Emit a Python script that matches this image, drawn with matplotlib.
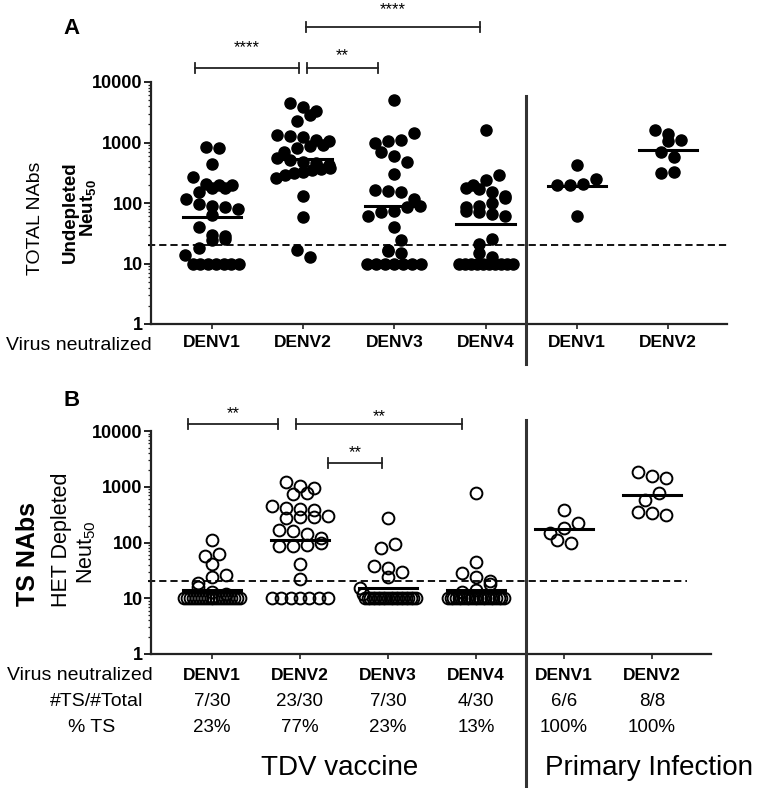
import matplotlib
matplotlib.use('Agg')
import matplotlib.pyplot as plt
import numpy as np
from matplotlib.lines import Line2D
from matplotlib.ticker import LogLocator, NullFormatter
from matplotlib.transforms import blended_transform_factory

# ---- data ----
cats = ['DENV1', 'DENV2', 'DENV3', 'DENV4', 'DENV1', 'DENV2']

# panel A: total NAbs (undepleted Neut50)
tot_d1 = [850, 820, 440, 270, 210, 200, 195, 180, 175, 150, 115, 95, 90, 85, 80,
          63, 40, 30, 28, 25, 24, 18, 14, 10, 10, 10, 10, 10, 10, 10]
tot_d2 = [4500, 3900, 3300, 2800, 2300, 1350, 1300, 1250, 1100, 1050, 900, 870, 800,
          700, 560, 520, 480, 460, 420, 380, 370, 350, 320, 310, 290, 260, 130, 58, 17, 13]
tot_d3 = [5000, 1450, 1100, 1050, 1000, 700, 600, 480, 300, 165, 160, 150, 115, 90, 85,
          75, 70, 62, 40, 24, 17, 16, 15, 10, 10, 10, 10, 10, 10, 10]
tot_d4 = [1600, 290, 240, 200, 180, 170, 150, 130, 120, 100, 90, 85, 75, 70, 65, 60,
          25, 21, 15, 13, 10, 10, 10, 10, 10, 10, 10, 10, 10, 10]
tot_p1 = [430, 250, 205, 200, 195, 60]
tot_p2 = [1600, 1400, 1100, 1050, 700, 580, 320, 310]

# panel B: type-specific NAbs (HET depleted Neut50)
ts_d1 = [110, 62, 58, 41, 26, 24, 19, 16, 13, 12] + [10] * 20
ts_d2 = [1230, 1030, 940, 780, 740, 450, 420, 400, 380, 300, 290, 290, 270, 170, 160,
         145, 120, 100, 92, 88, 85, 41, 22] + [10] * 7
ts_d3 = [280, 95, 80, 38, 35, 30, 24, 15, 12] + [10] * 21
ts_d4 = [760, 45, 28, 24, 20, 18, 14, 13] + [10] * 22
ts_p1 = [380, 220, 185, 150, 111, 100]
ts_p2 = [1860, 1560, 1420, 760, 580, 357, 345, 311]

cutoff = 20
ts_frac = ['7/30', '23/30', '7/30', '4/30', '6/6', '8/8']
ts_pct = ['23%', '77%', '23%', '13%', '100%', '100%']

yticks = [1, 10, 100, 1000, 10000]

# ---- figure ----
W, H = 761, 788
plt.rcParams['font.family'] = ['Liberation Sans', 'DejaVu Sans']
plt.rcParams['mathtext.fontset'] = 'custom'
plt.rcParams['mathtext.rm'] = 'Liberation Sans'
plt.rcParams['mathtext.bf'] = 'Liberation Sans:bold'
plt.rcParams['mathtext.it'] = 'Liberation Sans:italic'

fig = plt.figure(figsize=(W / 100, H / 100), dpi=100)


def px(x, y):
    return x / W, 1 - y / H


ax_a = fig.add_axes([151 / W, 1 - 324 / H, 576 / W, 242 / H])
ax_b = fig.add_axes([151 / W, 1 - 654 / H, 560 / W, 223 / H])
pos = np.arange(1, 7)


def style(ax, xlim, pad):
    ax.set_yscale('log')
    ax.set_ylim(1, 10000)
    ax.set_xlim(*xlim)
    for s in ['top', 'right']:
        ax.spines[s].set_visible(False)
    for s in ['left', 'bottom']:
        ax.spines[s].set_linewidth(1.6)
        ax.spines[s].set_color('#222222')
    ax.set_yticks(yticks)
    ax.set_yticklabels([str(t) for t in yticks], fontweight='bold', fontsize=13)
    ax.yaxis.set_minor_locator(LogLocator(base=10, subs=np.arange(2, 10), numticks=20))
    ax.yaxis.set_minor_formatter(NullFormatter())
    ax.tick_params(axis='y', which='major', length=5, width=1.4, pad=1, color='#222222')
    ax.tick_params(axis='y', which='minor', length=2.5, width=0.9, color='#222222')
    ax.set_xticks(pos)
    ax.set_xticklabels(cats, fontweight='bold', fontsize=12.5)
    ax.tick_params(axis='x', length=3.5, width=1.2, pad=pad, color='#222222')


style(ax_a, (0.331, 6.647), 4.5)
style(ax_b, (0.307, 6.67), 6.5)


def scatter_layout(ax, x0, vals, binh=10, step=13, wmax=27):
    # GraphPad-like column scatter: points with close values share a row
    vals = np.asarray(vals, float)
    T = ax.transData
    ys = T.transform(np.column_stack([np.full(len(vals), x0), vals]))[:, 1]
    ppu = T.transform([(x0 + 1, 1)])[0][0] - T.transform([(x0, 1)])[0][0]
    order = np.argsort(-vals, kind='stable')
    off = np.zeros(len(vals))
    rows = []
    for i in order:
        if rows and ys[rows[-1][0]] - ys[i] < binh:
            rows[-1].append(i)
        else:
            rows.append([i])
    for r, row in enumerate(rows):
        n = len(row)
        if n == 1:
            continue
        s = min(step, 2 * wmax / (n - 1))
        offs = (np.arange(n) - (n - 1) / 2) * s
        if r % 2:
            offs = offs[::-1]
        off[row] = offs
    return x0 + off / ppu


for i, vals in enumerate([tot_d1, tot_d2, tot_d3, tot_d4, tot_p1, tot_p2]):
    xs = scatter_layout(ax_a, pos[i], vals, binh=10, step=13, wmax=27)
    ax_a.plot(xs, vals, 'o', ms=8, color='black', zorder=3, clip_on=False)
    gm = 10 ** np.mean(np.log10(vals))
    ax_a.plot([pos[i] - 0.32, pos[i] + 0.32], [gm, gm], color='black', lw=2.2, zorder=4)

for i, vals in enumerate([ts_d1, ts_d2, ts_d3, ts_d4, ts_p1, ts_p2]):
    xs = scatter_layout(ax_b, pos[i], vals, binh=10, step=14, wmax=28)
    ax_b.plot(xs, vals, 'o', ms=8.5, mfc='none', mec='black', mew=1.4, zorder=3, clip_on=False)
    gm = 10 ** np.mean(np.log10(vals))
    ax_b.plot([pos[i] - 0.33, pos[i] + 0.33], [gm, gm], color='black', lw=2.2, zorder=4)

ax_a.axhline(cutoff, xmin=-0.005, xmax=1.005, color='black', lw=1.3, ls=(0, (4, 2.2)), clip_on=False)
ax_b.axhline(cutoff, xmin=-0.005, xmax=0.957, color='black', lw=1.3, ls=(0, (4, 2.2)), clip_on=False)


def bracket(ax, x1, x2, y, label, ty, cap):
    tr = blended_transform_factory(ax.transData, ax.transAxes)
    ax.plot([x1, x2], [y, y], transform=tr, color='#222222', lw=1.3, clip_on=False)
    for x in (x1, x2):
        ax.plot([x, x], [y - cap, y + cap], transform=tr, color='#222222', lw=1.3, clip_on=False)
    ax.text((x1 + x2) / 2, ty, label, transform=tr, ha='center', va='center', fontsize=12)


bracket(ax_a, 0.81, 1.95, 1.058, '****', 1.14, 0.021)
bracket(ax_a, 2.04, 2.82, 1.058, '**', 1.11, 0.021)
bracket(ax_a, 2.03, 3.94, 1.227, '****', 1.30, 0.021)
bracket(ax_b, 0.73, 1.75, 1.031, '**', 1.08, 0.022)
bracket(ax_b, 1.95, 3.84, 1.031, '**', 1.065, 0.022)
bracket(ax_b, 2.32, 2.93, 0.857, '**', 0.905, 0.022)

# divider between vaccine and primary infection
fig.add_artist(Line2D([526 / W] * 2, [1 - 96 / H, 1 - 364 / H], lw=2.2, color='#333333'))
fig.add_artist(Line2D([526 / W] * 2, [1 - 420 / H, 0], lw=2.2, color='#333333'))

# panel letters and axis labels
fig.text(*px(72, 28), 'A', fontsize=16, fontweight='bold', ha='center', va='center')
fig.text(*px(72, 400), 'B', fontsize=16, fontweight='bold', ha='center', va='center')

fig.text(*px(35, 218), 'TOTAL NAbs', rotation=90, fontsize=14, ha='center', va='center')
fig.text(*px(70, 212), 'Undepleted', rotation=90, fontsize=13.5, fontweight='bold',
         ha='center', va='center')
fig.text(*px(88, 208), r'$\mathbf{Neut_{50}}$', rotation=90, fontsize=13.5, ha='center', va='center')

fig.text(*px(28, 554), 'TS NAbs', rotation=90, fontsize=18, fontweight='bold', ha='center', va='center')
fig.text(*px(62, 540), 'HET Depleted', rotation=90, fontsize=15.5, ha='center', va='center')
fig.text(*px(87, 552), r'Neut$_{\mathregular{50}}$', rotation=90, fontsize=15.5, ha='center', va='center')

fig.text(*px(79, 345), 'Virus neutralized', fontsize=14, ha='center', va='center')
fig.text(*px(80, 676), 'Virus neutralized', fontsize=14, ha='center', va='center')
fig.text(*px(97, 701), '#TS/#Total', fontsize=14, ha='center', va='center')
fig.text(*px(92, 727), '% TS', fontsize=14, ha='center', va='center')

trb = blended_transform_factory(ax_b.transData, fig.transFigure)
for i in range(6):
    ax_b.text(pos[i], 1 - 701 / H, ts_frac[i], transform=trb, ha='center', va='center', fontsize=13.5)
    ax_b.text(pos[i], 1 - 727 / H, ts_pct[i], transform=trb, ha='center', va='center', fontsize=13.5)

fig.text(*px(340, 768), 'TDV vaccine', fontsize=20, ha='center', va='center')
fig.text(*px(649, 768), 'Primary Infection', fontsize=20, ha='center', va='center')

fig.savefig('out.png', dpi=100)
